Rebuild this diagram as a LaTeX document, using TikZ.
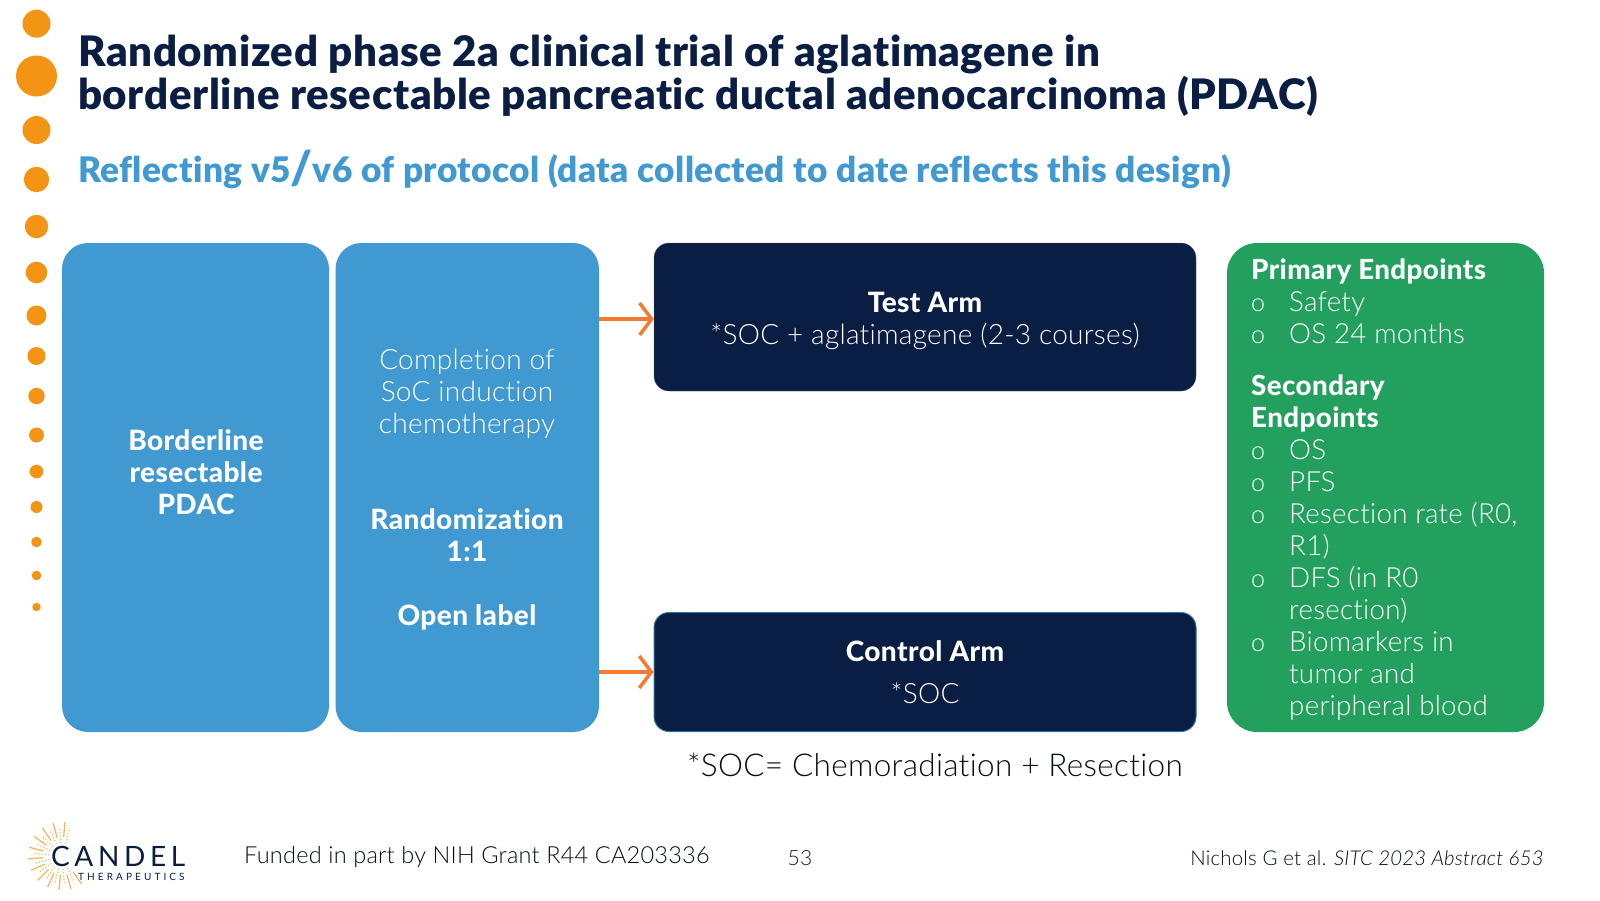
\documentclass[tikz,border=0pt]{standalone}
\usepackage{fontspec}
\setmainfont{Lato Light}[Ligatures=NoCommon,LetterSpace=1,BoldFont={Lato Heavy},BoldFeatures={LetterSpace=1.5},ItalicFont={Lato Light Italic}]
\newfontfamily\titlefont{Lato Black}[Ligatures=NoCommon,LetterSpace=1.5]
\newfontfamily\subtitlefont{Lato Black}[Ligatures=NoCommon,LetterSpace=1.2]
\newfontfamily\logofont{Lato}[LetterSpace=16.5]
\newfontfamily\logosmall{Lato}[LetterSpace=31]
\usetikzlibrary{arrows.meta}
\definecolor{navy}{HTML}{0A1D42}
\definecolor{skyblue}{HTML}{4199D1}
\definecolor{leafgreen}{HTML}{23A05D}
\definecolor{dotorange}{HTML}{F39414}
\definecolor{arroworange}{HTML}{F47B2E}
\definecolor{rayorange}{HTML}{F8B75E}
\newcommand{\goalitem}[1]{\makebox[38pt][l]{\fontsize{25}{32}\selectfont o}#1}
\newcommand{\bodysize}{\fontsize{28}{32}\selectfont}
\tikzset{
  bluebox/.style={fill=skyblue,rounded corners=26pt},
  armbox/.style={fill=navy,rounded corners=15pt},
  white text/.style={text=white,align=center,font=\bodysize},
  arm arrow/.style={draw=arroworange,line width=3.5pt,-{Straight Barb[length=12pt,width=32pt,line width=3.5pt]}},
}
\begin{document}
\begin{tikzpicture}[x=1pt,y=-1pt]
  \tikzstyle{every node}+=[inner sep=0pt]
  \useasboundingbox (0,0) rectangle (1600,900);
  % dots down the left side
  \foreach \ypos/\rad in {23.7/14,76/20.5,130/14,179.5/12.7,226.5/11.7,272.5/10.8,315.5/10,356/9,396/8.2,435/7.5,471.5/6.8,507/6,542/5.3,575.5/4.8,607/4.2}
    \fill [dotorange] (36.5,\ypos) circle (\rad);
  % heading
  \node (title) [anchor=base west,text=navy,align=left,font=\titlefont\fontsize{42}{43}\selectfont] at (78,109) {Randomized phase 2a clinical trial of aglatimagene in\\borderline resectable pancreatic ductal adenocarcinoma (PDAC)};
  \node (subtitle) [anchor=base west,text=skyblue,font=\subtitlefont\fontsize{35.2}{40}\selectfont] at (78,182.5) {Reflecting v5\raisebox{-2pt}{\fontsize{46}{46}\selectfont/}v6 of protocol (data collected to date reflects this design)};
  % boxes
  \node (eligible) [bluebox,minimum width=267pt,minimum height=489pt] at (195.5,487.5) {};
  \node (induction) [bluebox,minimum width=263.5pt,minimum height=489pt] at (467.25,487.5) {};
  \node (testarm) [armbox,draw=navy!70!white,minimum width=542pt,minimum height=148pt] at (925,317) {};
  \node (controlarm) [armbox,draw=skyblue!70!navy,line width=1pt,minimum width=542pt,minimum height=119pt] at (925,672) {};
  \node (endpoints) [fill=leafgreen,rounded corners=30pt,minimum width=317pt,minimum height=489pt] at (1385.5,487.5) {};
  % box texts
  \node (eligibletext) [white text] at (196,472) {\bfseries Borderline\\\bfseries resectable\\\bfseries PDAC};
  \node (inductiontext) [white text] at (467,394) {Completion of\\SoC induction\\chemotherapy};
  \node (randomtext) [white text] at (467,535) {\bfseries Randomization\\\bfseries 1:1};
  \node (opentext) [white text,anchor=base] at (467,625) {\bfseries Open label};
  \node (testtitle) [white text,anchor=base] at (925,312) {\bfseries Test Arm};
  \node (testtext) [white text,anchor=base] at (925,344) {*SOC + aglatimagene (2-3 courses)};
  \node (controltitle) [white text,anchor=base] at (925,661) {\bfseries Control Arm};
  \node (controltext) [white text,anchor=base] at (925,703.5) {*SOC};
  \node (endpointstext) [anchor=north west,text=white,align=left,font=\fontsize{27.7}{32}\selectfont] at (1251,259) {\bfseries Primary Endpoints\\
    \goalitem{Safety}\\
    \goalitem{OS 24 months}\\[20pt]
    \bfseries Secondary\\
    \bfseries Endpoints\\
    \goalitem{OS}\\
    \goalitem{PFS}\\
    \goalitem{Resection rate (R0,}\\
    \hspace*{38pt}R1)\\
    \goalitem{DFS (in R0}\\
    \hspace*{38pt}resection)\\
    \goalitem{Biomarkers in}\\
    \hspace*{38pt}tumor and\\
    \hspace*{38pt}peripheral blood};
  % arrows
  \draw [arm arrow] ([yshift=-2pt]induction.east |- testarm.west) -- ([yshift=-2pt]testarm.west);
  \draw [arm arrow] (induction.east |- controlarm.west) -- (controlarm.west);
  % footer
  \node (socnote) [anchor=base west,text=navy!40!black,font=\fontsize{31.5}{36}\selectfont] at (687,776) {*SOC= Chemoradiation + Resection};
  \node (funding) [anchor=base west,text=navy!40!black,font=\fontsize{23.5}{30}\selectfont] at (244,863) {Funded in part by NIH Grant R44 CA203336};
  \node (pagenum) [text=navy,font=\fontsize{21}{25}\selectfont] at (800,858) {53};
  \node (citation) [anchor=base east,text=navy!40!black,font=\fontsize{20.4}{25}\selectfont] at (1544,865) {Nichols G et al. \textit{SITC 2023 Abstract 653}};
  % logo
  \foreach \ang in {55,75,...,275}
    \draw [rayorange,line width=1.3pt] (62,856) ++(\ang:19) -- ++(\ang:15);
  \foreach \ang in {65,85,...,285}
    \draw [rayorange,line width=1.2pt,dotted] (62,856) ++(\ang:13) -- ++(\ang:15);
  \node (logoname) [anchor=base west,text=navy,font=\logofont\fontsize{28}{30}\selectfont] at (51,866) {CANDEL};
  \node (logosub) [anchor=base west,text=navy,font=\logosmall\fontsize{10}{12}\selectfont] at (78,880) {THERAPEUTICS};
\end{tikzpicture}
\end{document}
